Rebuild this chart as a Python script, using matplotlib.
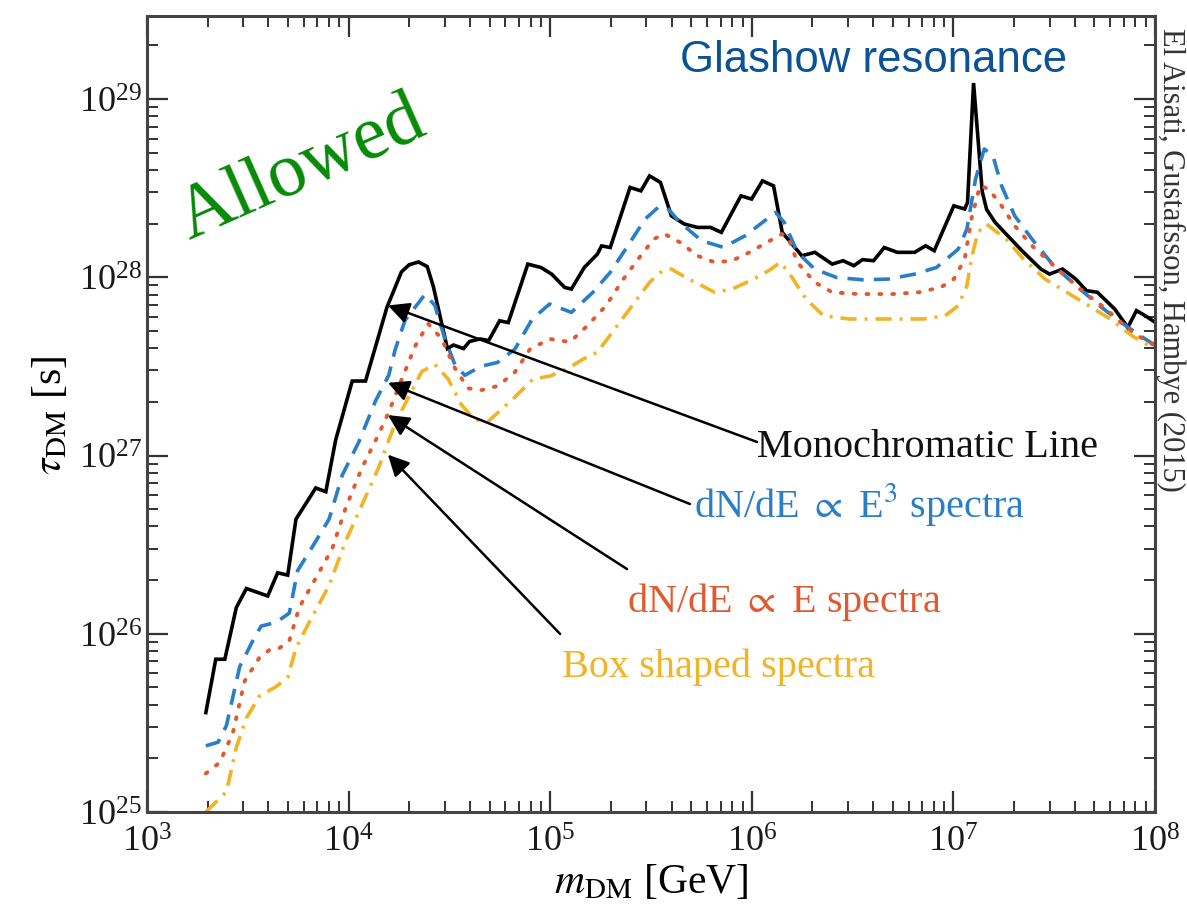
import numpy as np
import matplotlib
matplotlib.use("Agg")
import matplotlib.pyplot as plt
from matplotlib.ticker import LogLocator, NullFormatter

mono_logm = [3.292, 3.341, 3.386, 3.443, 3.493, 3.599, 3.648, 3.698, 3.739, 3.837,
             3.887, 3.936, 4.018, 4.084, 4.190, 4.262, 4.300, 4.347, 4.390, 4.420,
             4.490, 4.520, 4.570, 4.600, 4.652, 4.695, 4.749, 4.792, 4.889, 4.954,
             5.007, 5.072, 5.105, 5.169, 5.234, 5.255, 5.298, 5.396, 5.450, 5.493,
             5.547, 5.601, 5.665, 5.730, 5.795, 5.849, 5.946, 5.999, 6.053, 6.108,
             6.151, 6.248, 6.313, 6.399, 6.453, 6.506, 6.549, 6.604, 6.657, 6.722,
             6.808, 6.862, 6.905, 7.002, 7.056, 7.070, 7.100, 7.143, 7.165, 7.207,
             7.261, 7.348, 7.434, 7.477, 7.542, 7.607, 7.660, 7.714, 7.800, 7.865,
             7.908, 7.951, 8.000]
mono_logtau = [25.558, 25.857, 25.857, 26.147, 26.254, 26.212, 26.342, 26.329, 26.643, 26.818,
               26.797, 27.088, 27.418, 27.418, 27.831, 28.030, 28.070, 28.086, 28.060, 27.950,
               27.600, 27.620, 27.600, 27.640, 27.654, 27.645, 27.756, 27.746, 28.074, 28.055,
               28.018, 27.943, 27.934, 28.055, 28.130, 28.176, 28.167, 28.504, 28.485, 28.569,
               28.532, 28.345, 28.299, 28.280, 28.280, 28.252, 28.457, 28.439, 28.541, 28.513,
               28.252, 28.121, 28.140, 28.074, 28.093, 28.065, 28.099, 28.093, 28.167, 28.140,
               28.140, 28.177, 28.149, 28.401, 28.383, 28.420, 29.090, 28.480, 28.380, 28.308,
               28.243, 28.140, 28.046, 28.018, 28.046, 27.990, 27.925, 27.916, 27.822, 27.719,
               27.813, 27.785, 27.748]

e3_logm = [3.292, 3.353, 3.394, 3.460, 3.534, 3.566, 3.640, 3.706, 3.747, 3.837,
           3.903, 3.969, 4.051, 4.133, 4.199, 4.231, 4.280, 4.379, 4.428, 4.477,
           4.527, 4.576, 4.658, 4.738, 4.825, 4.911, 4.997, 5.105, 5.212, 5.298,
           5.385, 5.471, 5.536, 5.580, 5.644, 5.751, 5.859, 5.967, 6.075, 6.118,
           6.161, 6.226, 6.312, 6.420, 6.549, 6.678, 6.808, 6.916, 7.024, 7.067,
           7.110, 7.153, 7.196, 7.239, 7.304, 7.390, 7.498, 7.628, 7.735, 7.843,
           7.951, 8.000]
e3_logtau = [25.371, 25.392, 25.485, 25.816, 25.981, 26.043, 26.064, 26.116, 26.354, 26.519,
             26.643, 26.891, 27.077, 27.305, 27.450, 27.594, 27.759, 27.904, 27.842, 27.656,
             27.511, 27.450, 27.501, 27.522, 27.597, 27.766, 27.850, 27.803, 27.916, 28.028,
             28.177, 28.327, 28.393, 28.390, 28.308, 28.205, 28.168, 28.233, 28.327, 28.364,
             28.308, 28.140, 28.046, 27.999, 27.986, 27.990, 28.018, 28.055, 28.158, 28.271,
             28.552, 28.720, 28.682, 28.513, 28.345, 28.214, 28.064, 27.934, 27.831, 27.738,
             27.654, 27.620]

e1_logm = [3.292, 3.361, 3.426, 3.484, 3.558, 3.607, 3.656, 3.706, 3.755, 3.837,
           3.919, 3.985, 4.067, 4.149, 4.199, 4.264, 4.330, 4.395, 4.461, 4.527,
           4.592, 4.658, 4.740, 4.825, 4.900, 4.999, 5.098, 5.183, 5.277, 5.363,
           5.449, 5.514, 5.567, 5.644, 5.730, 5.816, 5.902, 5.988, 6.075, 6.150,
           6.183, 6.226, 6.312, 6.399, 6.528, 6.700, 6.830, 6.938, 7.002, 7.056,
           7.089, 7.132, 7.175, 7.239, 7.304, 7.390, 7.498, 7.628, 7.757, 7.886,
           8.000]
e1_logtau = [25.216, 25.278, 25.444, 25.734, 25.867, 25.909, 25.919, 25.961, 26.147, 26.312,
             26.478, 26.705, 26.933, 27.119, 27.243, 27.429, 27.614, 27.739, 27.656, 27.491,
             27.377, 27.367, 27.390, 27.468, 27.597, 27.654, 27.637, 27.727, 27.841, 27.990,
             28.121, 28.215, 28.243, 28.196, 28.121, 28.084, 28.093, 28.140, 28.196, 28.243,
             28.215, 28.084, 27.972, 27.916, 27.906, 27.906, 27.916, 27.944, 27.990, 28.102,
             28.327, 28.514, 28.495, 28.401, 28.289, 28.177, 28.065, 27.934, 27.822, 27.691,
             27.616]

box_logm = [3.292, 3.394, 3.443, 3.493, 3.558, 3.640, 3.698, 3.739, 3.805, 3.903,
            3.985, 4.067, 4.149, 4.231, 4.297, 4.363, 4.428, 4.494, 4.560, 4.625,
            4.691, 4.815, 4.915, 4.999, 5.083, 5.163, 5.234, 5.320, 5.407, 5.493,
            5.557, 5.601, 5.687, 5.816, 5.902, 6.010, 6.096, 6.140, 6.183, 6.269,
            6.356, 6.485, 6.700, 6.851, 6.959, 7.024, 7.067, 7.089, 7.121, 7.164,
            7.196, 7.261, 7.348, 7.455, 7.563, 7.671, 7.778, 7.886, 8.000]
box_logtau = [25.000, 25.114, 25.362, 25.527, 25.651, 25.703, 25.755, 25.920, 26.065, 26.271,
              26.519, 26.725, 26.933, 27.181, 27.326, 27.471, 27.511, 27.429, 27.284, 27.202,
              27.190, 27.317, 27.429, 27.446, 27.485, 27.541, 27.579, 27.710, 27.841, 27.972,
              28.037, 28.046, 27.990, 27.916, 27.934, 27.990, 28.046, 28.084, 28.028, 27.878,
              27.784, 27.766, 27.766, 27.766, 27.784, 27.841, 27.953, 28.102, 28.252, 28.299,
              28.271, 28.215, 28.102, 27.990, 27.916, 27.841, 27.766, 27.672, 27.597]

# arrow heads (on the curves) and tails (at the labels), log10 units
arrow_head_logm = [4.195, 4.195, 4.195, 4.195]
arrow_head_logtau = [27.842, 27.408, 27.227, 27.005]
arrow_tail_logm = [6.026, 5.693, 5.381, 5.049]
arrow_tail_logtau = [27.076, 26.728, 26.363, 25.999]

labels = ["Monochromatic Line", r"dN/dE $\propto$ E$^3$ spectra",
          r"dN/dE $\propto$ E spectra", "Box shaped spectra"]

C_BLUE = "#2a7ec8"
C_RED = "#e2592f"
C_ORANGE = "#f2b324"

plt.rcParams["font.family"] = ["Liberation Serif", "DejaVu Serif"]
plt.rcParams["mathtext.fontset"] = "stix"

fig = plt.figure(figsize=(11.87, 9.2), dpi=100)
ax = fig.add_axes([147 / 1187, 1 - 813 / 920, 1008 / 1187, 796 / 920])

ax.plot(10 ** np.array(mono_logm), 10 ** np.array(mono_logtau), color="k", lw=2.6,
        solid_joinstyle="miter")
ax.plot(10 ** np.array(e3_logm), 10 ** np.array(e3_logtau), color=C_BLUE, lw=2.6,
        ls=(0, (4.5, 2.8)))
ax.plot(10 ** np.array(e1_logm), 10 ** np.array(e1_logtau), color=C_RED, lw=2.8,
        ls=(0, (0.5, 2.8)), dash_capstyle="round")
ax.plot(10 ** np.array(box_logm), 10 ** np.array(box_logtau), color=C_ORANGE, lw=2.6,
        ls=(0, (4.5, 2.2, 0.8, 2.2)))

for hm, ht, tm, tt in zip(arrow_head_logm, arrow_head_logtau, arrow_tail_logm, arrow_tail_logtau):
    ax.annotate("", xy=(10 ** hm, 10 ** ht), xytext=(10 ** tm, 10 ** tt),
                arrowprops=dict(arrowstyle="-|>", color="k", lw=1.8,
                                mutation_scale=32, shrinkA=0, shrinkB=0))

# curve labels (axes fraction, baseline)
ax.text(0.605, 0.447, labels[0], color="#111111", fontsize=29, transform=ax.transAxes)
ax.text(0.543, 0.372, labels[1], color=C_BLUE, fontsize=29, transform=ax.transAxes)
ax.text(0.476, 0.2525, labels[2], color=C_RED, fontsize=29, transform=ax.transAxes)
ax.text(0.412, 0.171, labels[3], color=C_ORANGE, fontsize=29, transform=ax.transAxes)

ax.text(0.153, 0.808, "Allowed", color="#078a07", fontsize=55, rotation=24,
        ha="center", va="center", transform=ax.transAxes)
ax.text(0.721, 0.931, "Glashow resonance", color="#0b5394", fontsize=31.5,
        family=["Liberation Sans", "DejaVu Sans"],
        ha="center", va="baseline", transform=ax.transAxes)

fig.text(0.9865, 0.718, "El Aisati, Gustafsson, Hambye (2015)", rotation=-90,
         ha="center", va="center", fontsize=22, color="#333333")

ax.set_xscale("log")
ax.set_yscale("log")
ax.set_xlim(1e3, 1e8)
ax.set_ylim(1e25, 10 ** 29.466)

ax.xaxis.set_major_locator(LogLocator(base=10, numticks=10))
ax.xaxis.set_minor_locator(LogLocator(base=10, subs=np.arange(2, 10), numticks=50))
ax.yaxis.set_major_locator(LogLocator(base=10, numticks=10))
ax.yaxis.set_minor_locator(LogLocator(base=10, subs=np.arange(2, 10), numticks=50))
ax.xaxis.set_minor_formatter(NullFormatter())
ax.yaxis.set_minor_formatter(NullFormatter())

ax.tick_params(which="both", direction="in", top=True, right=True, colors="#333333",
               labelcolor="#1a1a1a")
ax.tick_params(which="major", length=15, width=1.6, labelsize=26)
ax.tick_params(which="minor", length=8, width=1.4)
ax.tick_params(axis="x", which="major", pad=10)
ax.tick_params(axis="y", which="major", pad=4)
for s in ax.spines.values():
    s.set_linewidth(2.2)
    s.set_color("#444444")

ax.set_xlabel(r"$m_{\rm DM}$ [GeV]", fontsize=30, labelpad=2)
ax.set_ylabel(r"$\tau_{\rm DM}$ [s]", fontsize=30, labelpad=6)

fig.savefig("out.png", dpi=100)
